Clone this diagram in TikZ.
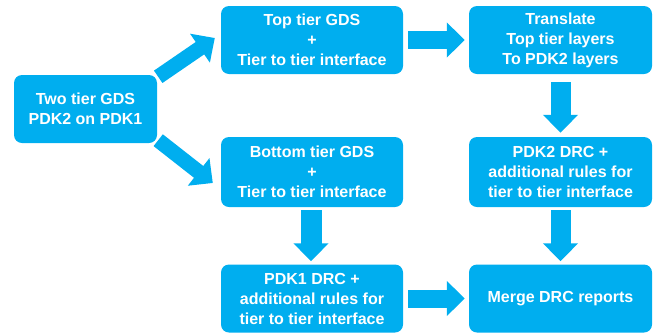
\documentclass[tikz,border=0pt]{standalone}
\usepackage{fontspec}
\setmainfont{Liberation Sans}
\usetikzlibrary{arrows.meta,calc}
\definecolor{flowblue}{RGB}{0,174,239}
\begin{document}
\begin{tikzpicture}[x=1pt,y=-1pt,
  box/.style={fill=flowblue, draw=none, rounded corners=8pt, inner sep=0pt,
    text=white, align=center, minimum height=68pt,
    font=\fontsize{16}{20}\selectfont\bfseries},
  blockarrow/.style={draw=flowblue, line width=18pt,
    -{Triangle[width=34pt 0 1, length=18pt 0 1]}},
  diagarrow/.style={draw=flowblue, line width=15pt,
    -{Triangle[width=34pt 0 1, length=18pt 0 1]}}]
\useasboundingbox (0,0) rectangle (656,333);

% process boxes
\node[box, minimum width=143pt] (L)  at (85.5,109) {Two tier GDS\\PDK2 on PDK1};
\node[box, minimum width=182pt] (TM) at (312,40) {Top tier GDS\\+\\Tier to tier interface};
\node[box, minimum width=183pt] (TR) at (560.5,40) {Translate\\Top tier layers\\To PDK2 layers};
\node[box, minimum width=182pt, minimum height=70pt] (MM) at (312,172) {Bottom tier GDS\\+\\Tier to tier interface};
\node[box, minimum width=183pt, minimum height=70pt] (MR) at (560.5,172) {PDK2 DRC +\\additional rules for\\tier to tier interface};
\node[box, minimum width=182pt] (BM) at (312,298.5) {PDK1 DRC +\\additional rules for\\tier to tier interface};
\node[box, minimum width=183pt] (BR) at (560.5,298.5) {Merge DRC reports};

% flow arrows
\draw[diagarrow] ($(L.north east)+(1,2)$) -- ($(TM.west)+(-6,-2)$);
\draw[diagarrow] ($(L.south east)+(1,-3)$) -- ($(MM.west)+(-8,11)$);
\draw[blockarrow, shorten <=5pt, shorten >=4pt] (TM.east) -- (TR.west);
\draw[blockarrow, line width=20pt, shorten <=8pt, shorten >=4pt] (TR.south) -- (MR.north);
\draw[blockarrow, line width=21pt, shorten <=3pt, shorten >=3pt] ($(MM.south)+(-1,0)$) -- ($(BM.north)+(-1,0)$);
\draw[blockarrow, line width=20pt, shorten <=3pt, shorten >=3pt] (MR.south) -- (BR.north);
\draw[blockarrow, shorten <=5pt, shorten >=4pt] (BM.east) -- (BR.west);
\end{tikzpicture}
\end{document}
